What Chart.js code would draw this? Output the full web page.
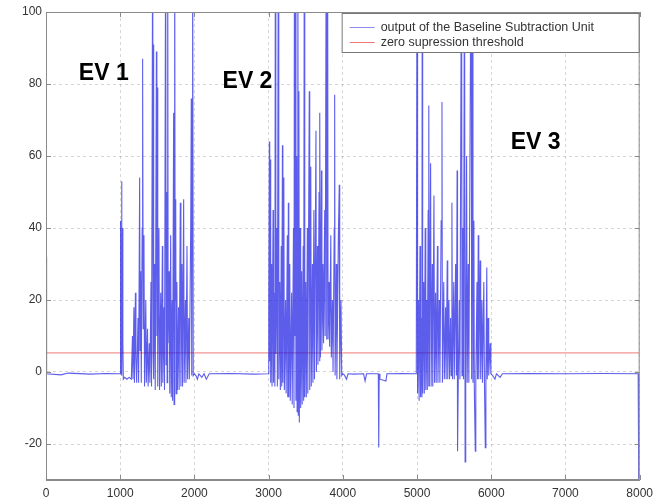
<!DOCTYPE html>
<html>
<head>
<meta charset="utf-8">
<script src="https://cdn.jsdelivr.net/npm/chart.js@4.4.1/dist/chart.umd.min.js"></script>
<style>
  html, body { margin: 0; padding: 0; background: #fff; }
  #wrap { width: 659px; height: 504px; }
</style>
</head>
<body>
<div id="wrap"><canvas id="bsuChart"></canvas></div>
<script>
/* DATA */
const xTicks = [0, 1000, 2000, 3000, 4000, 5000, 6000, 7000, 8000];
const yTicks = [-20, 0, 20, 40, 60, 80, 100];
const seriesNames = [
  "output of the Baseline Subtraction Unit",
  "zero supression threshold"
];
const eventNames = ["EV 1", "EV 2", "EV 3"];
const thresholdLevel = 5.3;

const leadIn = [[0,32],[8,-0.5],[200,-0.8],[300,-0.3],[600,-0.6],[800,-0.4],[995,-0.5]];

const event1 = [
  [1000,-0.5],[1003,18],[1007,42],[1012,2],[1018,53],[1024,-1],[1030,40],[1036,8],[1042,-2],
  [1060,-1.5],[1090,-2],[1120,-1.5],[1150,-2],
  [1165,10],[1172,-2],[1185,18],[1192,-3],[1205,22],[1212,4],[1222,-3],[1240,15],[1248,-3],
  [1262,54],[1268,6],[1276,28],[1284,-3],[1296,40],[1302,87],[1310,12],[1320,38],[1328,-4],
  [1345,20],[1352,-3],[1368,12],[1376,-4],[1392,8],[1400,-3],
  [1415,25],[1422,-4],[1438,130],[1443,5],[1448,91],[1454,-2],[1465,30],[1472,-5],
  [1488,89],[1494,10],[1500,79],[1506,-4],[1522,40],[1530,-5],[1546,22],[1554,-4],
  [1568,35],[1574,-3],[1590,18],[1597,-5],
  [1613,130],[1618,2],[1626,50],[1632,-3],[1640,130],[1646,8],[1660,28],[1668,-6],
  [1680,38],[1688,-7],[1700,20],[1706,-8],[1720,72],[1726,-9],[1734,130],[1740,20],
  [1748,48],[1754,-6],[1764,25],[1772,-5],[1786,18],[1794,-5],
  [1810,47],[1818,-4],[1832,30],[1840,-4],[1855,48],[1862,-3],[1878,20],[1886,-3],
  [1900,35],[1908,-2],[1924,15],[1932,-2],[1950,40],[1958,76],[1964,-1],[1970,69],
  [1976,130],[1984,-1],[2000,-0.5]
];

const gap12 = [[2020,-1],[2040,-2],[2060,-0.5],[2100,-1.5],[2130,-0.5],[2160,-2],[2200,-0.5],
  [2500,-0.4],[2800,-0.6],[2995,-0.5]];

const event2 = [
  [3000,-0.5],[3004,20],[3010,64],[3015,3],[3022,59],[3028,-3],[3040,30],[3046,-4],
  [3060,45],[3066,-3],[3078,22],[3084,-4],[3091,130],[3097,5],[3110,40],[3118,-4],
  [3131,130],[3137,-2],[3150,25],[3158,-5],[3170,35],[3176,-4],[3186,63],[3192,-3],
  [3205,54],[3212,-5],[3228,20],[3236,-6],[3252,38],[3258,-7],[3266,47],[3272,-7],
  [3285,30],[3292,-8],[3310,22],[3318,-9],[3335,40],[3342,-10],
  [3348,130],[3354,10],[3362,130],[3368,-8],[3378,60],[3384,-11],[3394,130],[3400,-12],
  [3408,78],[3414,-14],[3425,40],[3432,-10],[3445,28],[3452,-9],[3466,35],[3472,-8],
  [3481,130],[3487,-7],[3500,25],[3508,-7],[3522,40],[3528,-6],[3548,78],[3554,-5],
  [3568,57],[3575,-4],[3590,30],[3597,-3],[3610,45],[3618,-2],[3638,67],[3644,0],
  [3658,35],[3665,2],[3680,50],[3686,3],[3692,72],[3698,4],[3712,56],[3718,6],
  [3732,30],[3740,8],[3756,45],[3762,10],[3777,130],[3783,9],[3795,130],[3801,9],
  [3815,25],[3822,7],[3838,38],[3845,4],[3860,20],[3868,0],[3884,40],[3890,77],
  [3896,-1],[3912,30],[3920,-2],[3940,38],[3952,52],[3958,-2],[3975,20],[3985,-1],
  [4000,-0.5]
];

const gap23 = [[4020,-0.8],[4050,-2],[4070,-0.5],[4150,-0.6],[4280,-0.5],[4300,-2.5],
  [4320,-0.5],[4478,-0.5],[4484,-21],[4490,-0.5],[4500,-2],[4580,-2.5],[4595,-0.5],
  [4800,-0.4],[4990,-0.5]];

const event3 = [
  [4995,-0.5],[5000,130],[5005,27],[5010,-6],[5020,20],[5028,-8],[5040,35],[5048,-7],
  [5060,15],[5066,-7],[5070,130],[5076,-6],[5090,25],[5098,-6],[5110,40],[5118,-5],
  [5130,20],[5138,-5],[5150,45],[5156,-4],[5161,74],[5166,-4],[5183,58],[5190,-4],
  [5205,30],[5212,-4],[5228,49],[5236,-3],[5250,22],[5258,-3],[5275,35],[5282,-3],
  [5300,20],[5308,-3],[5325,42],[5336,75],[5342,-3],[5360,25],[5368,-2],[5385,18],
  [5392,-2],[5407,31],[5414,-2],[5430,20],[5438,-2],[5452,15],[5460,-1],[5470,47],
  [5478,-2],[5495,25],[5502,-2],[5520,30],[5530,-1],[5540,56],[5546,-22],[5556,-2],
  [5570,20],[5578,-2],
  [5600,130],[5606,-1],[5618,40],[5626,-2],[5640,130],[5648,-25],[5656,-3],[5668,60],
  [5676,-3],[5690,30],[5698,-3],[5730,130],[5736,-2],[5748,130],[5754,-3],[5766,42],
  [5772,-4],[5785,-22],[5792,-3],[5808,25],[5815,-2],[5825,38],[5832,-2],[5850,31],
  [5858,-2],[5875,20],[5882,-3],[5900,25],[5908,-2],[5920,-21],[5928,-2],[5940,29],
  [5946,-2],[5958,15],[5966,-1],[5985,8],[5995,-0.5]
];

const tail = [[6020,-1],[6050,-2],[6070,-0.5],[6120,-1.5],[6150,-0.5],[6500,-0.4],
  [7000,-0.5],[7500,-0.4],[7980,-0.5],[7990,-40],[8000,-40]];

const trace = []
  .concat(leadIn, event1, gap12, event2, gap23, event3, tail)
  .map(p => ({ x: p[0], y: p[1] }));

const threshold = [
  { x: xTicks[0], y: thresholdLevel },
  { x: xTicks[xTicks.length - 1], y: thresholdLevel }
];

/* BOX, TICKS, LEGEND, EV LABELS */
const decorations = {
  id: "decorations",
  afterDraw(chart, args, opts) {
    const { ctx, chartArea: a, scales: { x, y } } = chart;
    ctx.save();

    // box round the plot
    ctx.strokeStyle = "#8a8a8a";
    ctx.lineWidth = 1;
    ctx.strokeRect(a.left + 0.5, a.top + 0.5, a.width - 1, a.height - 1);

    // inward tick marks
    ctx.beginPath();
    xTicks.forEach(v => {
      const px = Math.round(x.getPixelForValue(v)) + 0.5;
      ctx.moveTo(px, a.bottom); ctx.lineTo(px, a.bottom - 5);
      ctx.moveTo(px, a.top); ctx.lineTo(px, a.top + 5);
    });
    yTicks.forEach(v => {
      const py = Math.round(y.getPixelForValue(v)) + 0.5;
      ctx.moveTo(a.left, py); ctx.lineTo(a.left + 5, py);
      ctx.moveTo(a.right, py); ctx.lineTo(a.right - 5, py);
    });
    ctx.stroke();

    // event labels
    ctx.fillStyle = "#000";
    ctx.font = "bold 23px 'Liberation Sans', Arial, sans-serif";
    ctx.textBaseline = "alphabetic";
    eventNames.forEach((name, i) => {
      const at = opts.eventAt[i];
      ctx.fillText(name, x.getPixelForValue(at[0]), y.getPixelForValue(at[1]));
    });

    // legend
    const bw = 297, bh = 39;
    const bx = a.right - bw - 1, by = a.top + 1;
    ctx.fillStyle = "#fff";
    ctx.fillRect(bx, by, bw, bh);
    ctx.strokeStyle = "#777";
    ctx.strokeRect(bx + 0.5, by + 0.5, bw, bh);

    ctx.font = "12.5px 'Liberation Sans', Arial, sans-serif";
    ctx.textBaseline = "middle";
    seriesNames.forEach((name, i) => {
      const ly = by + 14.5 + i * 15;
      ctx.strokeStyle = i === 0 ? "rgba(110,110,235,0.8)" : "#f07878";
      ctx.beginPath();
      ctx.moveTo(bx + 8, ly); ctx.lineTo(bx + 33, ly);
      ctx.stroke();
      ctx.fillStyle = "#333";
      ctx.fillText(name, bx + 39, ly);
    });

    ctx.restore();
  }
};

new Chart(document.getElementById("bsuChart"), {
  type: "scatter",
  data: {
    datasets: [
      {
        label: seriesNames[0],
        data: trace,
        showLine: true,
        borderColor: "rgba(30,30,228,0.72)",
        borderWidth: 1.1,
        pointRadius: 0,
        tension: 0
      },
      {
        label: seriesNames[1],
        data: threshold,
        showLine: true,
        borderColor: "#f07878",
        borderWidth: 1,
        pointRadius: 0
      }
    ]
  },
  options: {
    responsive: true,
    maintainAspectRatio: false,
    animation: false,
    events: [],
    layout: { padding: { top: 12, right: 18, left: 0, bottom: 0 } },
    plugins: {
      legend: { display: false },
      tooltip: { enabled: false },
      decorations: {
        eventAt: [[443, 81], [2379, 79], [6263, 62]]
      }
    },
    scales: {
      x: {
        type: "linear",
        min: 0,
        max: 8000,
        afterBuildTicks: s => { s.ticks = xTicks.map(v => ({ value: v })); },
        afterFit: s => { s.height = 24; },
        grid: { color: "rgba(0,0,0,0.16)", drawTicks: false },
        border: { display: true, color: "#8a8a8a", dash: [3, 3] },
        ticks: {
          color: "#333",
          padding: 6,
          maxRotation: 0,
          callback: v => String(v),
          font: { family: "'Liberation Sans', Arial, sans-serif", size: 12 }
        }
      },
      y: {
        min: -30,
        max: 100,
        afterBuildTicks: s => { s.ticks = yTicks.map(v => ({ value: v })); },
        afterFit: s => { s.width = 46; },
        grid: { color: "rgba(0,0,0,0.16)", drawTicks: false },
        border: { display: true, color: "#8a8a8a", dash: [3, 3] },
        ticks: {
          color: "#333",
          padding: 4,
          callback: v => String(v),
          font: { family: "'Liberation Sans', Arial, sans-serif", size: 12 }
        }
      }
    }
  },
  plugins: [decorations]
});
</script>
</body>
</html>
